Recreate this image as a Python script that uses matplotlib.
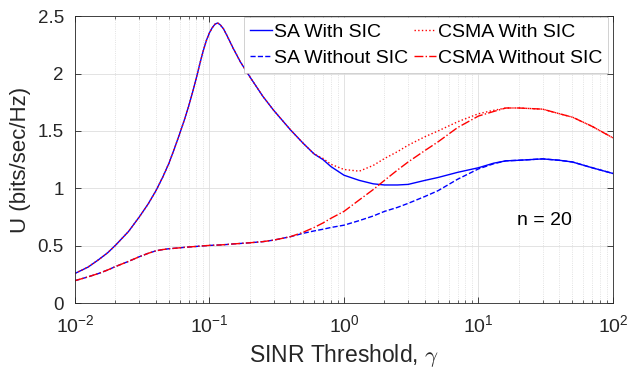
import matplotlib
matplotlib.use('Agg')

import matplotlib.pyplot as plt
from matplotlib.ticker import LogLocator, NullFormatter

# SINR threshold values (log axis)
gamma = [0.01, 0.0125, 0.015, 0.0175, 0.02, 0.025, 0.03, 0.035, 0.04, 0.045,
         0.05, 0.055, 0.06, 0.065, 0.07, 0.075, 0.08, 0.085, 0.09, 0.095,
         0.1, 0.105, 0.11, 0.115, 0.12, 0.127, 0.135, 0.15, 0.17, 0.2,
         0.25, 0.3, 0.4, 0.5, 0.6, 0.7, 0.8, 1.0, 1.3, 1.65,
         2.0, 2.5, 3.0, 4.0, 5.0, 7.0, 10, 13, 16, 20,
         30, 40, 50, 70, 100]

sa_sic = [0.26, 0.315, 0.38, 0.44, 0.505, 0.625, 0.75, 0.865, 0.98, 1.10,
          1.22, 1.35, 1.475, 1.595, 1.715, 1.84, 1.965, 2.09, 2.20, 2.29,
          2.355, 2.40, 2.43, 2.44, 2.425, 2.39, 2.33, 2.22, 2.10, 1.97,
          1.80, 1.68, 1.51, 1.39, 1.30, 1.25, 1.19, 1.115, 1.07, 1.04,
          1.03, 1.03, 1.035, 1.07, 1.095, 1.14, 1.18, 1.22, 1.24, 1.245,
          1.257, 1.245, 1.23, 1.18, 1.13]

sa_nosic = [0.197, 0.23, 0.26, 0.29, 0.32, 0.365, 0.405, 0.435, 0.457, 0.468,
            0.475, 0.479, 0.483, 0.487, 0.49, 0.493, 0.495, 0.498, 0.50, 0.502,
            0.504, 0.505, 0.506, 0.507, 0.508, 0.51, 0.512, 0.517, 0.521, 0.527,
            0.537, 0.55, 0.58, 0.61, 0.63, 0.645, 0.66, 0.68, 0.72, 0.76,
            0.80, 0.835, 0.87, 0.93, 0.98, 1.08, 1.17, 1.215, 1.24, 1.245,
            1.257, 1.245, 1.23, 1.18, 1.13]

csma_sic = [0.26, 0.315, 0.38, 0.44, 0.505, 0.625, 0.75, 0.865, 0.98, 1.10,
            1.22, 1.35, 1.475, 1.595, 1.715, 1.84, 1.965, 2.09, 2.20, 2.29,
            2.355, 2.40, 2.43, 2.44, 2.425, 2.39, 2.33, 2.22, 2.10, 1.97,
            1.80, 1.68, 1.51, 1.39, 1.30, 1.26, 1.21, 1.165, 1.15, 1.20,
            1.26, 1.32, 1.376, 1.45, 1.50, 1.58, 1.65, 1.68, 1.70, 1.70,
            1.69, 1.65, 1.62, 1.54, 1.44]

csma_nosic = [0.197, 0.23, 0.26, 0.29, 0.32, 0.365, 0.405, 0.435, 0.457, 0.468,
              0.475, 0.479, 0.483, 0.487, 0.49, 0.493, 0.495, 0.498, 0.50, 0.502,
              0.504, 0.505, 0.506, 0.507, 0.508, 0.51, 0.512, 0.517, 0.521, 0.527,
              0.537, 0.55, 0.58, 0.62, 0.66, 0.70, 0.74, 0.80, 0.90, 0.99,
              1.07, 1.16, 1.23, 1.33, 1.405, 1.53, 1.63, 1.67, 1.70, 1.70,
              1.69, 1.65, 1.62, 1.54, 1.44]

plt.rcParams['font.family'] = ['Liberation Sans', 'DejaVu Sans']
plt.rcParams['mathtext.fontset'] = 'cm'

edge = (0.15, 0.15, 0.15)

fig = plt.figure(figsize=(6.29, 3.74), dpi=100)
ax = fig.add_axes([0.1192, 0.189, 0.8553, 0.768])

ax.plot(gamma, sa_sic, '-', color='b', lw=1.0, label='SA With SIC')
ax.plot(gamma, sa_nosic, '--', color='b', lw=1.0, label='SA Without SIC')
ax.plot(gamma, csma_sic, ':', color='r', lw=1.0, label='CSMA With SIC')
ax.plot(gamma, csma_nosic, '-.', color='r', lw=1.0, label='CSMA Without SIC')

ax.set_xscale('log')
ax.set_xlim(1e-2, 1e2)
ax.set_ylim(0, 2.5)
ax.set_yticks([0, 0.5, 1, 1.5, 2, 2.5])
ax.set_yticklabels(['0', '0.5', '1', '1.5', '2', '2.5'])
ax.xaxis.set_minor_locator(LogLocator(base=10, subs=range(2, 10)))
ax.xaxis.set_minor_formatter(NullFormatter())

ax.grid(True, which='major', color=(0.87, 0.87, 0.87), lw=0.6)
ax.grid(True, which='minor', axis='x', color=(0.85, 0.85, 0.85), lw=0.6, ls=':')
ax.set_axisbelow(True)

ax.tick_params(which='both', direction='in', top=True, right=True, colors=edge)
ax.tick_params(axis='y', labelsize=13.5, pad=8)
ax.tick_params(axis='x', labelsize=14, pad=8)
ax.tick_params(which='major', length=4, width=0.6)
ax.tick_params(which='minor', length=2, width=0.5)
for s in ax.spines.values():
    s.set_color(edge)
    s.set_linewidth(0.6)

ax.set_xlabel(r'SINR Threshold, $\gamma$', fontsize=16.5, color=edge, labelpad=4)
ax.set_ylabel('U (bits/sec/Hz)', fontsize=16, color=edge, labelpad=5)

ax.text(31, 0.72, 'n = 20', fontsize=14, ha='center', va='center', color='k')

leg = ax.legend(loc='upper right', bbox_to_anchor=(0.9907, 0.9965), ncol=2,
                fontsize=14, frameon=True, fancybox=False, framealpha=1,
                facecolor='white', edgecolor=(0.75, 0.75, 0.75),
                borderaxespad=0, borderpad=0.3, handlelength=1.15,
                handletextpad=0.08, columnspacing=0.3, labelspacing=0.45)
leg.get_frame().set_linewidth(0.5)

fig.savefig('out.png', dpi=100)
